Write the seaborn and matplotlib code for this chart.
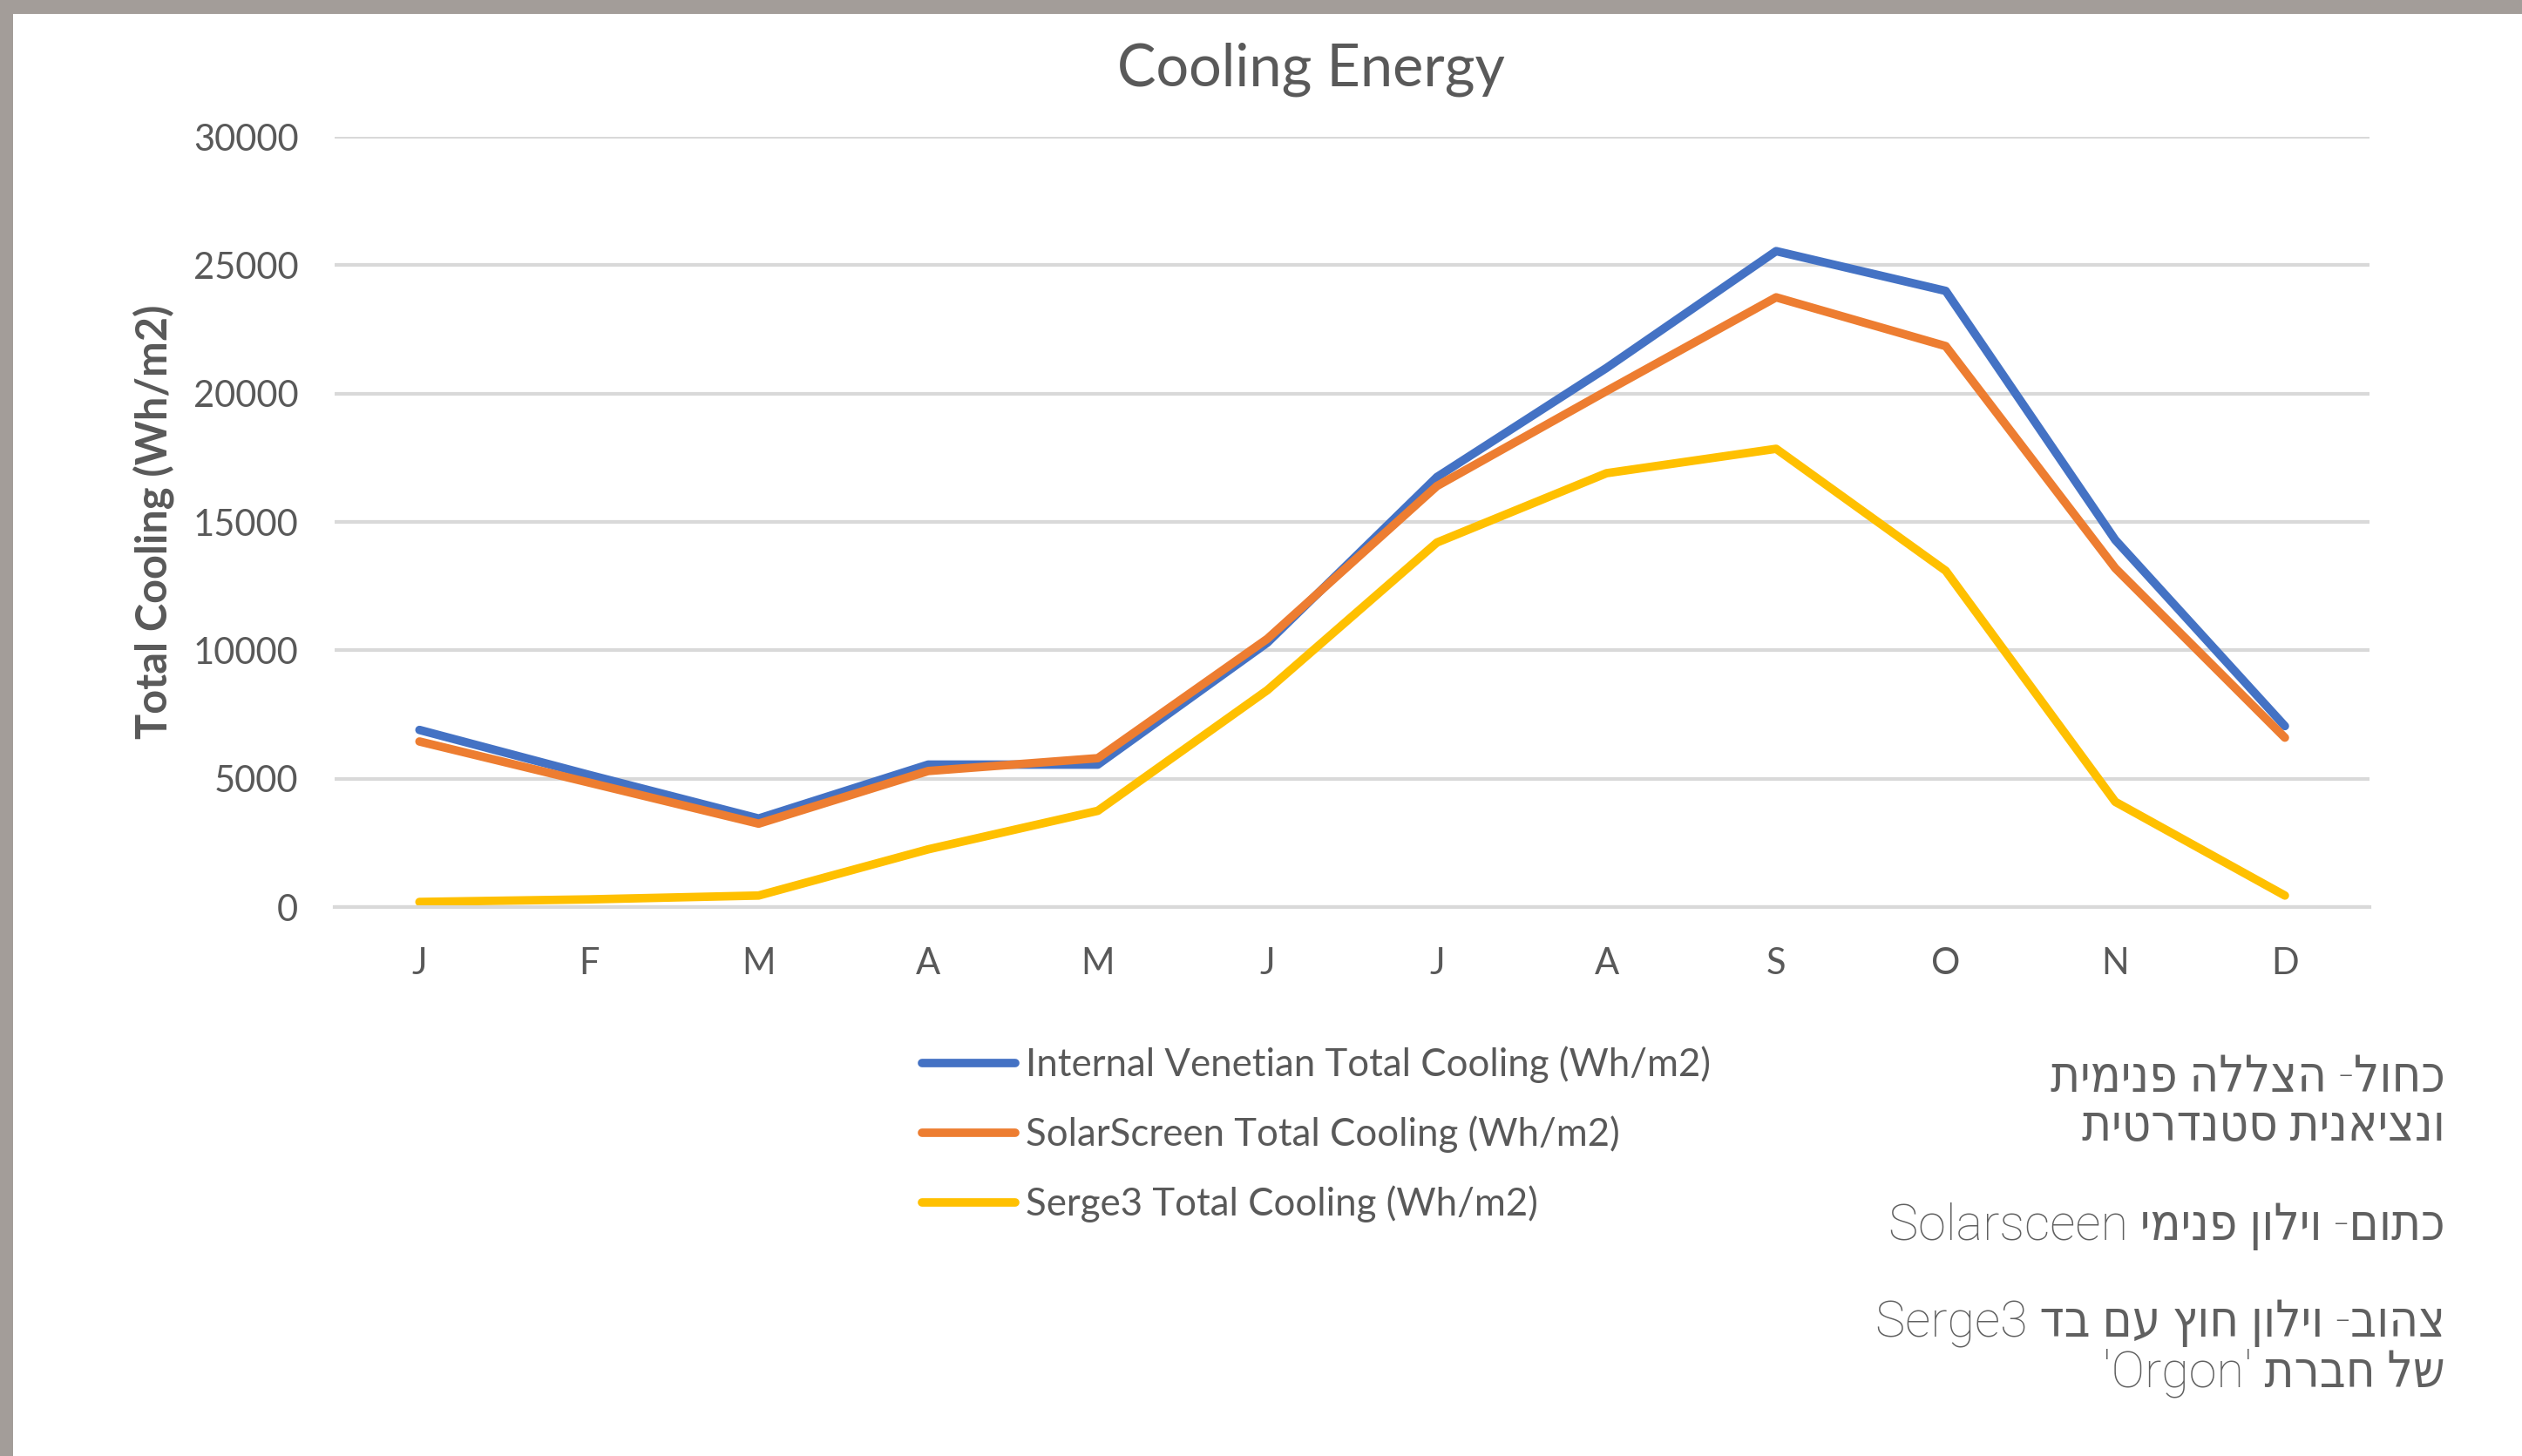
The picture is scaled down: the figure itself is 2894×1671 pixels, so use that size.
import re
import numpy as np
import pandas as pd
import matplotlib
matplotlib.use("Agg")
import matplotlib.pyplot as plt
import seaborn as sns
from matplotlib.patches import Rectangle
from matplotlib.ticker import FixedLocator

# ── Data ──────────────────────────────────────────────
months = ["J", "F", "M", "A", "M", "J", "J", "A", "S", "O", "N", "D"]
venetian = [6900, 5150, 3450, 5550, 5550, 10300, 16750, 21000, 25550, 24000, 14300, 7050]
solarscreen = [6450, 4850, 3250, 5300, 5800, 10450, 16400, 20100, 23750, 21850, 13200, 6600]
serge3 = [200, 300, 450, 2250, 3750, 8450, 14200, 16900, 17850, 13100, 4100, 450]

series_names = [
    "Internal Venetian Total Cooling (Wh/m2)",
    "SolarScreen Total Cooling (Wh/m2)",
    "Serge3 Total Cooling (Wh/m2)",
]
series_colors = ["#4472C4", "#ED7D31", "#FFC000"]

note_lines = [
    "כחול- הצללה פנימית",
    "ונציאנית סטנדרטית",
    "כתום- וילון פנימי Solarsceen",
    "צהוב- וילון חוץ עם בד Serge3",
    "של חברת 'Orgon'",
]


def visual_order(text):
    # matplotlib has no bidi support: lay RTL text out left-to-right by hand
    tokens = re.findall(r"[A-Za-z0-9]+|[^A-Za-z0-9]+", text)
    return "".join(t if re.match(r"[A-Za-z0-9]", t) else t[::-1] for t in reversed(tokens))


# ── Setup ──────────────────────────────────────────────
sns.set_theme(style="white")
plt.rcParams["font.family"] = ["Lato", "DejaVu Sans"]
TEXT = "#595959"
GRID = "#D9D9D9"

df = pd.concat([
    pd.DataFrame({"idx": np.arange(len(months)), "value": vals, "series": name})
    for name, vals in zip(series_names, [venetian, solarscreen, serge3])
])

fig = plt.figure(figsize=(28.94, 16.71), dpi=100)
ax = fig.add_axes([0.1327, 0.377, 0.9396 - 0.1327, 0.906 - 0.377])

sns.lineplot(data=df, x="idx", y="value", hue="series", hue_order=series_names,
             palette=dict(zip(series_names, series_colors)), linewidth=7,
             sort=False, ax=ax)

ax.set_xlim(-0.5, len(months) - 0.5)
ax.set_ylim(0, 30000)
ax.set_yticks(np.arange(0, 30001, 5000))
ax.set_xticks(np.arange(len(months)))
ax.set_xticklabels(months)
ax.xaxis.set_minor_locator(FixedLocator(np.arange(-0.5, len(months), 1.0)))
ax.tick_params(axis="x", which="major", length=0, pad=33, labelsize=30, labelcolor=TEXT)
ax.tick_params(axis="x", which="minor", length=11, width=2, color=GRID, direction="out")
ax.tick_params(axis="y", length=0, pad=30, labelsize=30, labelcolor=TEXT)
ax.yaxis.grid(True, color=GRID, linewidth=3)
ax.set_axisbelow(True)
for side in ["top", "right", "left"]:
    ax.spines[side].set_visible(False)
ax.spines["bottom"].set_color(GRID)
ax.spines["bottom"].set_linewidth(3)

ax.set_xlabel("")
ax.set_ylabel("Total Cooling (Wh/m2)", fontsize=35, color=TEXT, fontweight="bold")
ax.yaxis.set_label_coords(-0.079, 0.5)

fig.text(0.520, 0.952, "Cooling Energy", ha="center", va="center", fontsize=48, color=TEXT)

handles, labels = ax.get_legend_handles_labels()
ax.legend(handles, labels, loc="upper left", bbox_to_anchor=(0.3656, 0.2815),
          bbox_transform=fig.transFigure, frameon=False, fontsize=31.5,
          labelcolor=TEXT, handlelength=2.45, handletextpad=0.28,
          labelspacing=0.85, borderpad=0, borderaxespad=0)

# Hebrew notes on the right
note_baselines = [1253, 1309, 1423, 1533, 1591]
for line, yb in zip(note_lines, note_baselines):
    fig.text(0.9696, 1 - yb / 1671, visual_order(line), ha="right", va="baseline",
             fontsize=41.5, color="#606060", fontweight="light", fontstretch="condensed",
             family=["Roboto", "DejaVu Sans"])

# gray frame strips at the top and left edge
frame = "#A39D99"
fig.patches.append(Rectangle((0, 1 - 16 / 1671), 1, 16 / 1671, transform=fig.transFigure,
                             facecolor=frame, edgecolor="none"))
fig.patches.append(Rectangle((0, 0), 15 / 2894, 1, transform=fig.transFigure,
                             facecolor=frame, edgecolor="none"))

fig.savefig("out.png", dpi=100)
plt.close()
